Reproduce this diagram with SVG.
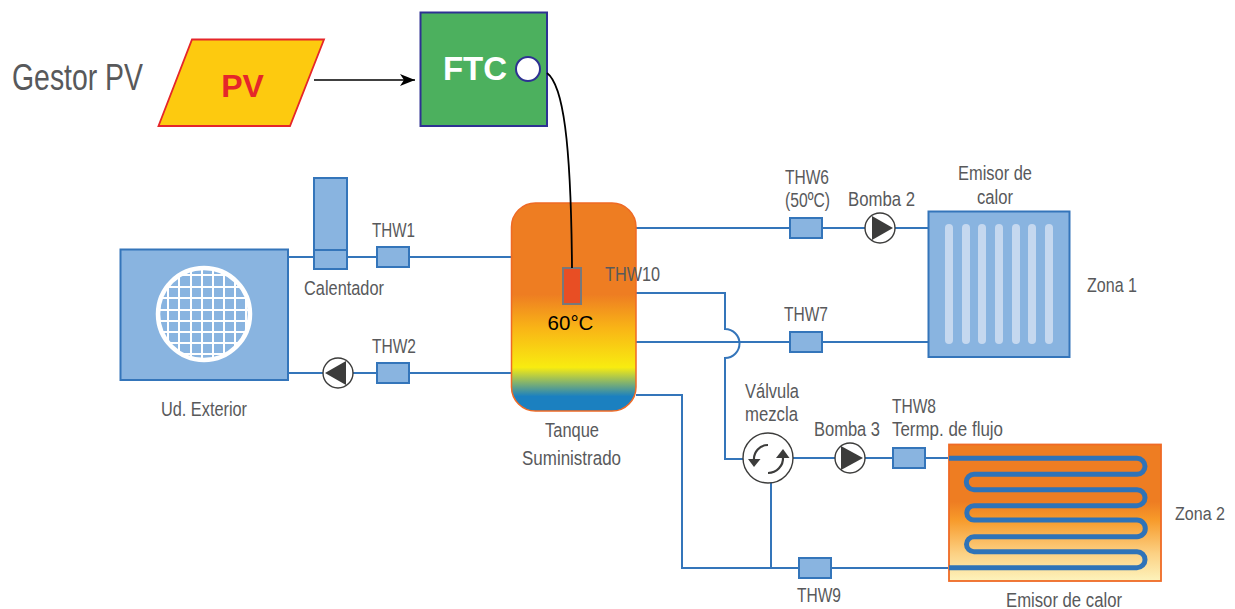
<svg xmlns="http://www.w3.org/2000/svg" width="1235" height="609" viewBox="0 0 1235 609">
<style>
text{font-family:"Liberation Sans",Arial,sans-serif;}
.l{font-size:20.500px;fill:#58595b;}
.c{text-anchor:middle;}
.p{fill:none;stroke:#3475BA;stroke-width:2;}
.b{fill:#89B4E0;stroke:#3475BA;stroke-width:2;}
.pc{fill:#fff;stroke:#3c3c3b;stroke-width:1.4;}
.pt{fill:#3c3c3b;}
.bar{fill:#C5D8EF;}
.g{stroke:#fff;stroke-width:2;}
.coil{fill:none;stroke:#2F73B8;stroke-width:5;}
</style>
<defs>
<linearGradient id="tankG" x1="0" y1="0" x2="0" y2="1">
<stop offset="0" stop-color="#EE7D22"/><stop offset="0.44" stop-color="#EE7D22"/><stop offset="0.6" stop-color="#F9B416"/><stop offset="0.79" stop-color="#F8EC10"/><stop offset="0.93" stop-color="#1B80C0"/><stop offset="1" stop-color="#1B80C0"/>
</linearGradient>
<linearGradient id="zoneG" x1="0" y1="0" x2="0" y2="1">
<stop offset="0" stop-color="#EE7D22"/><stop offset="0.42" stop-color="#EE7D22"/><stop offset="0.55" stop-color="#F79A2A"/><stop offset="0.8" stop-color="#FCD184"/><stop offset="1" stop-color="#FDF3BC"/>
</linearGradient>
<clipPath id="fanClip"><circle cx="204" cy="314" r="46"/></clipPath>
<marker id="ah" markerUnits="userSpaceOnUse" markerWidth="16" markerHeight="12" refX="15" refY="6" orient="auto"><path d="M0 0L15 6L0 12L4 6Z" fill="#000"/></marker>
</defs>

<g id="connectors">
<path class="p" d="M288 257H511"/>
<path class="p" d="M288 373H511"/>
<path class="p" d="M636 228H928"/>
<path class="p" d="M636 342H928"/>
<path class="p" d="M636 293H725V329A14.5 14.5 0 0 1 725 358V459H745"/>
<path class="p" d="M792 458H948"/>
<path class="p" d="M636 395H682V568H948"/>
<path class="p" d="M771 482V568"/>
<path d="M314 80H415" fill="none" stroke="#000" stroke-width="1.6" marker-end="url(#ah)"/>
</g>

<g id="gestor-pv"><text x="12" y="90" font-size="37" fill="#58595b" textLength="131" lengthAdjust="spacingAndGlyphs">Gestor PV</text></g>

<g id="pv">
<path d="M158.500 126L192 39.500H324L290 126Z" fill="#FDCA0F" stroke="#E5262A" stroke-width="1.800"/>
<text x="242.500" y="97" font-size="32" font-weight="bold" fill="#E5262A" class="c">PV</text>
</g>

<g id="ftc">
<rect x="420.500" y="12.500" width="126.500" height="113.500" fill="#4CB05E" stroke="#2E3192" stroke-width="2"/>
<text x="475" y="80" font-size="33" font-weight="bold" fill="#fff" class="c">FTC</text>
<circle cx="528" cy="69" r="12" fill="#fff" stroke="#2E3192" stroke-width="2"/>
</g>

<g id="ud-exterior">
<rect class="b" x="120.500" y="249.500" width="167.500" height="130.500"/>
<g clip-path="url(#fanClip)">
<path class="g" d="M168 266V362M179 266V362M191 266V362M202 266V362M213 266V362M224 266V362M235 266V362M246 266V362M158 275H250M158 287H250M158 298H250M158 310H250M158 321H250M158 332H250M158 343H250M158 354H250"/>
</g>
<circle cx="204" cy="314" r="46" fill="none" stroke="#fff" stroke-width="4.500"/>
<text class="l" x="161" y="415.500" textLength="86" lengthAdjust="spacingAndGlyphs">Ud. Exterior</text>
</g>

<g id="calentador">
<rect class="b" x="314" y="178" width="33" height="91"/>
<path class="p" d="M314 250H347"/>
<text class="l" x="304" y="295" textLength="80" lengthAdjust="spacingAndGlyphs">Calentador</text>
</g>

<g id="thw1"><rect class="b" x="377" y="247" width="32" height="20"/><text class="l" x="372" y="237" textLength="43" lengthAdjust="spacingAndGlyphs">THW1</text></g>
<g id="thw2"><rect class="b" x="377" y="363" width="32" height="20"/><text class="l" x="372" y="353" textLength="44" lengthAdjust="spacingAndGlyphs">THW2</text></g>
<g id="bomba-1"><circle class="pc" cx="338" cy="373" r="15"/><path class="pt" d="M325 373L346 361V385Z"/></g>

<g id="tanque">
<rect x="511.500" y="203" width="124.500" height="208" rx="24" fill="url(#tankG)" stroke="#EF6A25" stroke-width="1.500"/>
<rect x="563" y="268" width="18" height="36" fill="#E84E24" stroke="#77787B" stroke-width="2"/>
<text x="570.500" y="329.500" font-size="20.500" fill="#000" class="c">60°C</text>
<text class="l" x="545" y="436.500" textLength="54" lengthAdjust="spacingAndGlyphs">Tanque</text>
<text class="l" x="522" y="464.500" textLength="99" lengthAdjust="spacingAndGlyphs">Suministrado</text>
</g>

<g id="cable"><path d="M547 73C563 85 571 140 572 268" fill="none" stroke="#000" stroke-width="1.800"/></g>

<g id="thw10"><text class="l" x="605" y="281" textLength="55" lengthAdjust="spacingAndGlyphs">THW10</text></g>

<g id="thw6"><rect class="b" x="790" y="218" width="32" height="20"/>
<text class="l" x="785" y="184" textLength="44" lengthAdjust="spacingAndGlyphs">THW6</text>
<text class="l" x="785" y="207" textLength="45" lengthAdjust="spacingAndGlyphs">(50ºC)</text></g>
<g id="bomba-2"><circle class="pc" cx="880" cy="228" r="15"/><path class="pt" d="M872 216L893 228L872 240Z"/>
<text class="l" x="848" y="206" textLength="67" lengthAdjust="spacingAndGlyphs">Bomba 2</text></g>
<g id="thw7"><rect class="b" x="790" y="332" width="32" height="20"/><text class="l" x="784" y="321" textLength="44" lengthAdjust="spacingAndGlyphs">THW7</text></g>

<g id="emisor-1">
<rect class="b" x="928.500" y="211.500" width="141" height="145.500"/>
<rect class="bar" x="945" y="224" width="8" height="120" rx="4"/>
<rect class="bar" x="962" y="224" width="8" height="120" rx="4"/>
<rect class="bar" x="978" y="224" width="8" height="120" rx="4"/>
<rect class="bar" x="995" y="224" width="8" height="120" rx="4"/>
<rect class="bar" x="1012" y="224" width="8" height="120" rx="4"/>
<rect class="bar" x="1028" y="224" width="8" height="120" rx="4"/>
<rect class="bar" x="1045" y="224" width="8" height="120" rx="4"/>
<text class="l" x="958" y="180" textLength="74" lengthAdjust="spacingAndGlyphs">Emisor de</text>
<text class="l" x="977" y="204" textLength="36" lengthAdjust="spacingAndGlyphs">calor</text>
</g>
<g id="zona-1"><text class="l" x="1087" y="292" textLength="50" lengthAdjust="spacingAndGlyphs">Zona 1</text></g>

<g id="valvula">
<circle class="pc" cx="768" cy="458" r="25"/>
<path d="M768 445A14 14 0 0 0 754 460" fill="none" stroke="#3c3c3b" stroke-width="2.200"/>
<path class="pt" d="M748 459H760.500L754 467Z"/>
<path d="M768 473A15 15 0 0 0 783 457" fill="none" stroke="#3c3c3b" stroke-width="2.200"/>
<path class="pt" d="M776 458H789.500L783 449Z"/>
<text class="l" x="745" y="398" textLength="54" lengthAdjust="spacingAndGlyphs">Válvula</text>
<text class="l" x="745" y="421" textLength="53" lengthAdjust="spacingAndGlyphs">mezcla</text>
</g>
<g id="bomba-3"><circle class="pc" cx="850" cy="458" r="15"/><path class="pt" d="M841 446L863 458L841 470Z"/>
<text class="l" x="814" y="436" textLength="66" lengthAdjust="spacingAndGlyphs">Bomba 3</text></g>
<g id="thw8"><rect class="b" x="893" y="448" width="32" height="20"/>
<text class="l" x="892" y="413" textLength="44" lengthAdjust="spacingAndGlyphs">THW8</text>
<text class="l" x="892" y="436" textLength="111" lengthAdjust="spacingAndGlyphs">Termp. de flujo</text></g>
<g id="thw9"><rect class="b" x="799" y="558" width="32" height="20"/><text class="l" x="797" y="602" textLength="44" lengthAdjust="spacingAndGlyphs">THW9</text></g>

<g id="emisor-2">
<rect x="949" y="444.500" width="212" height="136.500" fill="url(#zoneG)" stroke="#EF6A25" stroke-width="1.800"/>
<path class="coil" d="M949 458.300H1137A8 8 0 0 1 1137 474.300H974A7.700 7.700 0 0 0 974 489.700H1137A8 8 0 0 1 1137 505.700H974A7.200 7.200 0 0 0 974 520.100H1137A8.300 8.300 0 0 1 1137 536.700H974A7.500 7.500 0 0 0 974 551.700H1137A8 8 0 0 1 1137 567.700H949"/>
<text class="l" x="1006" y="607" textLength="116" lengthAdjust="spacingAndGlyphs">Emisor de calor</text>
</g>
<g id="zona-2"><text x="1175" y="520" font-size="18" fill="#58595b" textLength="50" lengthAdjust="spacingAndGlyphs">Zona 2</text></g>
</svg>
